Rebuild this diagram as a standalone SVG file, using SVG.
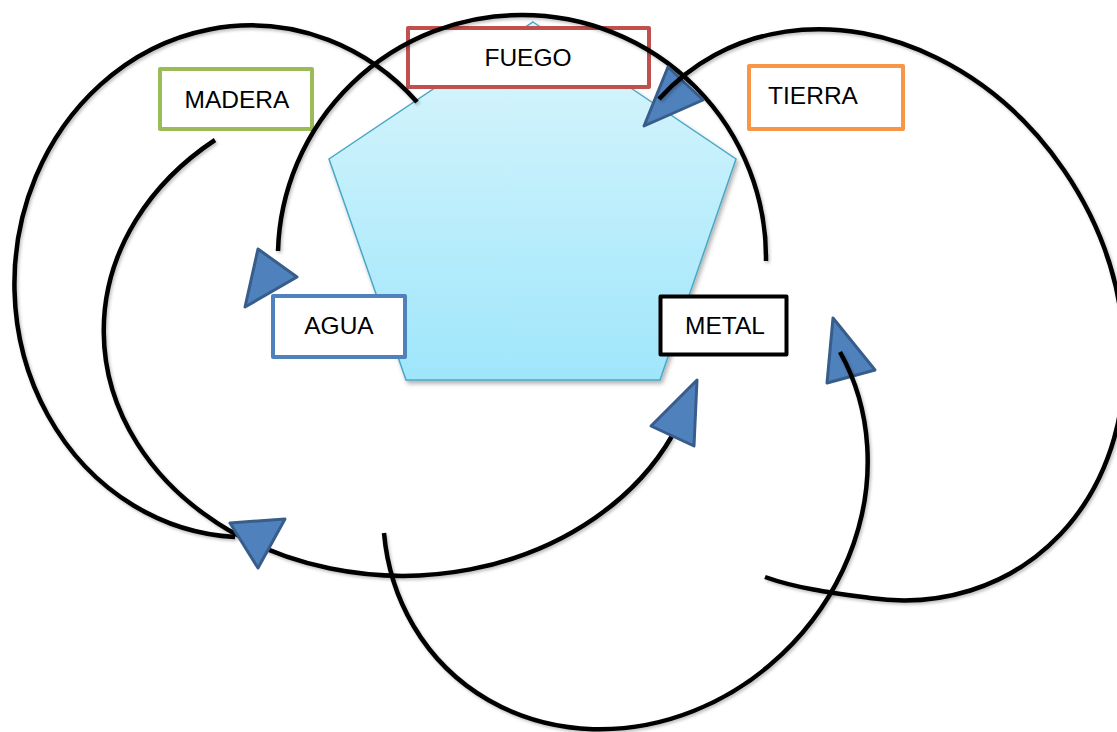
<svg xmlns="http://www.w3.org/2000/svg" width="1117" height="732" viewBox="0 0 1117 732">
<defs>
<linearGradient id="pg" x1="0" y1="0" x2="0" y2="1">
<stop offset="0" stop-color="#dcf6fc"/>
<stop offset="1" stop-color="#9fe6fb"/>
</linearGradient>
<filter id="sh" x="-10%" y="-10%" width="120%" height="125%">
<feDropShadow dx="2" dy="3" stdDeviation="2" flood-color="#000" flood-opacity="0.3"/>
</filter>
<filter id="lsh" x="-10%" y="-10%" width="120%" height="120%">
<feDropShadow dx="1.5" dy="2" stdDeviation="1.5" flood-color="#000" flood-opacity="0.25"/>
</filter>
</defs>
<style>
.box{fill:#fff;stroke-width:4;stroke-linejoin:round}
.lbl{font-family:"Liberation Sans",Arial,sans-serif;font-size:24.5px;fill:#000;text-anchor:middle}
.arc{fill:none;stroke:#000;stroke-width:4.5;stroke-linecap:butt;filter:url(#lsh)}
.tri{fill:#4f81bd;stroke:#385d8a;stroke-width:3;stroke-linejoin:round}
</style>
<rect width="1117" height="732" fill="#fff"/>
<g id="pentagon">
<polygon points="533,22 736,159 660,380 406,380 329,159" fill="url(#pg)" stroke="#4aa8c4" stroke-width="1.5" filter="url(#sh)"/>
</g>
<g id="fuego">
<rect class="box" x="408" y="28" width="241" height="59" stroke="#c0504d"/>
<text class="lbl" x="528" y="66">FUEGO</text>
</g>
<g id="madera">
<rect class="box" x="160" y="69" width="152" height="60" stroke="#9bbb59"/>
<text class="lbl" x="237" y="108">MADERA</text>
</g>
<g id="tierra">
<rect class="box" x="749" y="66" width="154" height="63" stroke="#f79646"/>
<text class="lbl" x="813" y="104">TIERRA</text>
</g>
<g id="agua">
<rect class="box" x="273" y="296" width="132" height="61" stroke="#4f81bd"/>
<text class="lbl" x="339" y="334">AGUA</text>
</g>
<g id="metal">
<rect class="box" x="660.5" y="296.5" width="126" height="58" stroke="#000" stroke-width="5"/>
<text class="lbl" x="725" y="334">METAL</text>
</g>
<g id="connectors">
<g id="arcA">
<path class="arc" d="M417,102 A234,256 3 1 0 235,537"/>
</g>
<g id="arcB">
<path class="arc" d="M215,140 A298.6,245 0 1 0 672,436"/>
<polygon class="tri" points="697,380 651,426 694,446"/>
</g>
<polygon class="tri" points="230,523 285,519 258,568"/>
<g id="arcC">
<path class="arc" d="M278,251 A244,243 0 0 1 522,15 A244,243 0 0 1 766,261"/>
<polygon class="tri" points="258,249 297,277 245,307"/>
</g>
<g id="arcD">
<polygon class="tri" points="668,67 703,100 644,126"/>
<path class="arc" d="M659,99 A297.8,248.4 58.1 0 1 1123,330 A297.8,248.4 58.1 0 1 870,598 C835.3,593.3 798,588.8 765,577"/>
</g>
<g id="arcE">
<polygon class="tri" points="833,318 875,370 827,383"/>
<path class="arc" d="M384,533 A254.9,229.4 -45.4 1 0 840,352"/>
</g>
</g>
</svg>
